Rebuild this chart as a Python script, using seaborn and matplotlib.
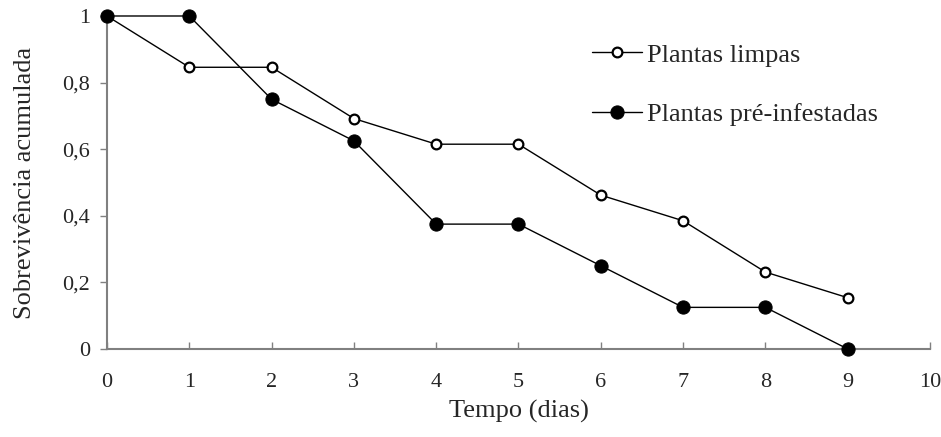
import pandas as pd
import seaborn as sns
import matplotlib.pyplot as plt

# survival data
dias = [0, 1, 2, 3, 4, 5, 6, 7, 8, 9]
limpas = [1, 0.846, 0.846, 0.692, 0.615, 0.615, 0.462, 0.385, 0.231, 0.154]
infestadas = [1, 1, 0.75, 0.625, 0.375, 0.375, 0.25, 0.125, 0.125, 0]

yticks = [0, 0.2, 0.4, 0.6, 0.8, 1]
yticklabels = ['0', '0,2', '0,4', '0,6', '0,8', '1']
xticks = list(range(0, 11))

df = pd.DataFrame({'dias': dias, 'limpas': limpas, 'infestadas': infestadas})

sns.set_style('white')
plt.rcParams['font.family'] = ['Liberation Serif', 'DejaVu Serif']

fig = plt.figure(figsize=(9.41, 4.37), dpi=100)
ax = fig.add_axes([0.1137, 0.2014, 0.8746, 0.762])

sns.lineplot(data=df, x='dias', y='limpas', ax=ax, color='black', lw=1,
             marker='o', markersize=7, markerfacecolor='white',
             markeredgecolor='black', markeredgewidth=1.6,
             label='Plantas limpas', clip_on=False, zorder=3)
sns.lineplot(data=df, x='dias', y='infestadas', ax=ax, color='black', lw=1,
             marker='o', markersize=9.5, markerfacecolor='black',
             markeredgecolor='black', label='Plantas pré-infestadas',
             clip_on=False, zorder=3)

ax.set_xlim(0, 10)
ax.set_ylim(0, 1)
ax.set_xticks(xticks)
ax.set_yticks(yticks)
ax.set_yticklabels(yticklabels)

for s in ['top', 'right']:
    ax.spines[s].set_visible(False)
for s in ['left', 'bottom']:
    ax.spines[s].set_color('#808080')
    ax.spines[s].set_linewidth(1.5)

ax.tick_params(axis='x', direction='in', length=5, width=1, color='#808080',
               pad=17, labelsize=16, bottom=True)
ax.tick_params(axis='y', direction='out', length=5, width=1, color='#808080',
               pad=7, labelsize=16, left=True)

ax.set_xlabel('Tempo (dias)', fontsize=19, labelpad=6)
ax.set_ylabel('Sobrevivência acumulada', fontsize=19, labelpad=19)

ax.legend(loc='upper left', bbox_to_anchor=(0.56, 0.99), frameon=False,
          fontsize=19, handlelength=1.9, handletextpad=0.2, labelspacing=1.38)

fig.savefig('out.png', dpi=100)
